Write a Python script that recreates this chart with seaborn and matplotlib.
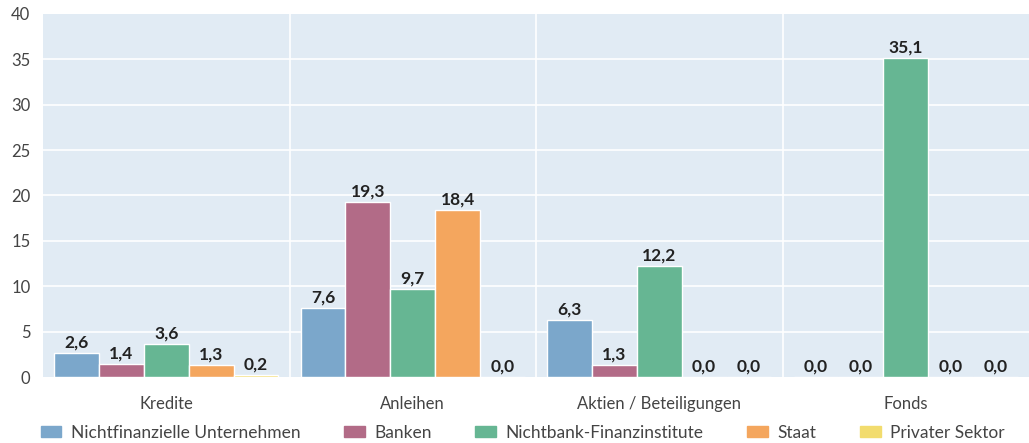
import pandas as pd
import matplotlib
matplotlib.use('Agg')
import matplotlib.pyplot as plt
import seaborn as sns

categories = ['Kredite', 'Anleihen', 'Aktien / Beteiligungen', 'Fonds']
series = ['Nichtfinanzielle Unternehmen', 'Banken', 'Nichtbank-Finanzinstitute',
          'Staat', 'Privater Sektor']
values = {
    'Nichtfinanzielle Unternehmen': [2.6, 7.6, 6.3, 0.0],
    'Banken': [1.4, 19.3, 1.3, 0.0],
    'Nichtbank-Finanzinstitute': [3.6, 9.7, 12.2, 35.1],
    'Staat': [1.3, 18.4, 0.0, 0.0],
    'Privater Sektor': [0.2, 0.0, 0.0, 0.0],
}
colors = ['#7BA7CB', '#B26B87', '#66B693', '#F4A65E', '#F2DC6E']

rows = []
for s in series:
    for c, v in zip(categories, values[s]):
        rows.append({'Kategorie': c, 'Sektor': s, 'Wert': v})
df = pd.DataFrame(rows)

sns.set_style('white')
plt.rcParams['font.family'] = ['Lato', 'DejaVu Sans']

fig = plt.figure(figsize=(10.29, 4.43), dpi=100)
ax = fig.add_axes([43 / 1029, 1 - 377 / 443, 1 - 43 / 1029, (377 - 14) / 443])
ax.set_facecolor('#E1EBF4')

sns.barplot(data=df, x='Kategorie', y='Wert', hue='Sektor', order=categories,
            hue_order=series, palette=colors, width=0.91, saturation=1,
            ax=ax, legend=False)

for cont in ax.containers:
    labels = [f'{b.get_height():.1f}'.replace('.', ',') for b in cont]
    ax.bar_label(cont, labels=labels, padding=2, fontsize=12.5,
                 fontweight='bold', color='#222222')

ax.set_ylim(0, 40)
ax.set_xlim(-0.5, 3.5)
ax.set_yticks(range(0, 41, 5))
for y in range(5, 40, 5):
    ax.axhline(y, color='white', lw=1.2, zorder=0.5)
for x in [0.5, 1.5, 2.5]:
    ax.axvline(x, color='white', lw=1.2, zorder=0.5)
ax.set_axisbelow(True)
for sp in ax.spines.values():
    sp.set_visible(False)
ax.tick_params(axis='both', length=0, labelsize=12, colors='#444444')
ax.tick_params(axis='y', pad=9)
ax.tick_params(axis='x', pad=14)
ax.set_xlabel('')
ax.set_ylabel('')

handles = [plt.Rectangle((0, 0), 1, 1, color=c) for c in colors]
fig.legend(handles, series, loc='lower center', ncol=5, frameon=False,
           bbox_to_anchor=(0.508, -0.03), fontsize=12.5, handlelength=1.2,
           handleheight=0.6, handletextpad=0.55, columnspacing=2.5,
           labelcolor='#444444')

plt.savefig('out.png', dpi=100)
